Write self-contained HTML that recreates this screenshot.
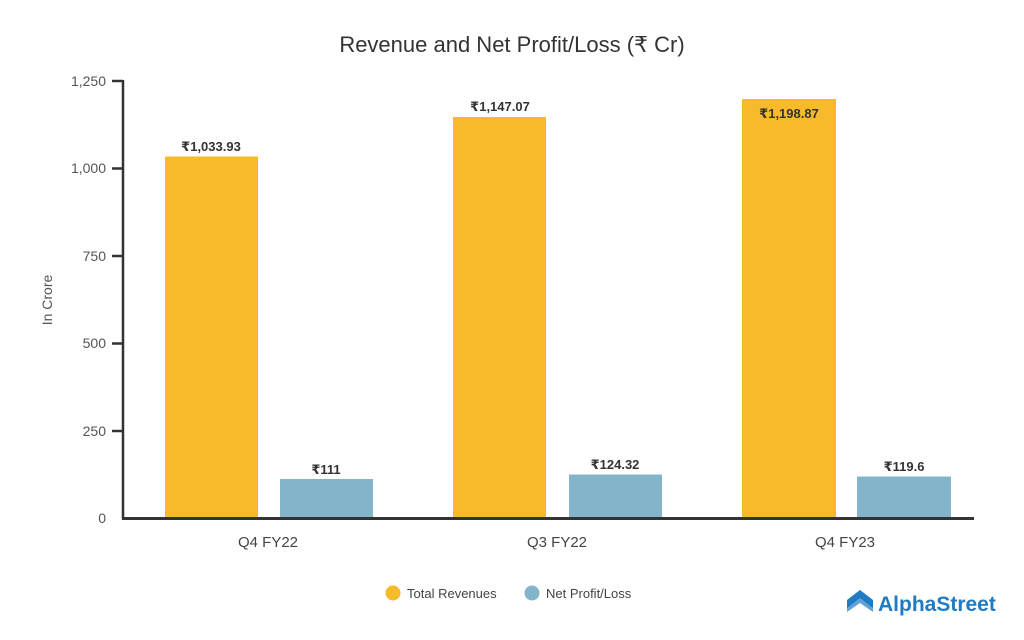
<!DOCTYPE html>
<html><head><meta charset="utf-8"><style>
html,body{margin:0;padding:0;background:#fff;width:1024px;height:640px;overflow:hidden}
svg text{font-family:"Liberation Sans","DejaVu Sans",sans-serif}
</style></head><body>
<svg width="1024" height="640" viewBox="0 0 1024 640" xmlns="http://www.w3.org/2000/svg">
<text x="512" y="52" font-size="22" fill="#333" text-anchor="middle">Revenue and Net Profit/Loss (₹ Cr)</text>
<g font-size="14" fill="#555" text-anchor="end">
<text x="106" y="86">1,250</text>
<text x="106" y="173">1,000</text>
<text x="106" y="261">750</text>
<text x="106" y="348">500</text>
<text x="106" y="436">250</text>
<text x="106" y="523">0</text>
</g>
<text transform="translate(52,300) rotate(-90)" font-size="14" fill="#555" text-anchor="middle">In Crore</text>
<g stroke="#333" stroke-width="2.5">
<line x1="123" y1="80" x2="123" y2="519"/>
<line x1="112" y1="81" x2="123" y2="81"/>
<line x1="112" y1="168.5" x2="123" y2="168.5"/>
<line x1="112" y1="256" x2="123" y2="256"/>
<line x1="112" y1="343.5" x2="123" y2="343.5"/>
<line x1="112" y1="431" x2="123" y2="431"/>
</g>
<g fill="#F7BA2B">
<rect x="165" y="156.5" width="93" height="361.5"/>
<rect x="453" y="117" width="93" height="401"/>
<rect x="742" y="99" width="94" height="419"/>
</g>
<g fill="#84B4CA">
<rect x="280" y="479" width="93" height="39"/>
<rect x="569" y="474.5" width="93" height="43.5"/>
<rect x="857" y="476.5" width="94" height="41.5"/>
</g>
<line x1="122" y1="518.5" x2="974" y2="518.5" stroke="#333" stroke-width="3"/>
<g font-size="13" font-weight="bold" fill="#333" text-anchor="middle">
<text x="211" y="151">₹1,033.93</text>
<text x="326" y="474">₹111</text>
<text x="500" y="111">₹1,147.07</text>
<text x="615" y="469">₹124.32</text>
<text x="789" y="118">₹1,198.87</text>
<text x="904" y="471">₹119.6</text>
</g>
<g font-size="15" fill="#444" text-anchor="middle">
<text x="268" y="547">Q4 FY22</text>
<text x="557" y="547">Q3 FY22</text>
<text x="845" y="547">Q4 FY23</text>
</g>
<circle cx="393" cy="593" r="7.5" fill="#F7BA2B"/>
<text x="407" y="598" font-size="13" fill="#444">Total Revenues</text>
<circle cx="532" cy="593" r="7.5" fill="#84B4CA"/>
<text x="546" y="598" font-size="13" fill="#444">Net Profit/Loss</text>
<g fill="#1E7BC4">
<path d="M847 600 L860 590 L873 600 L873 608 L860 598 L847 608 Z"/>
<path d="M847 606 L860 596 L873 606 L873 612 L860 603 L847 612 Z" opacity="0.7"/>
</g>
<text x="878" y="611" font-size="21" font-weight="bold" fill="#1E7BC4">AlphaStreet</text>
</svg>
</body></html>
